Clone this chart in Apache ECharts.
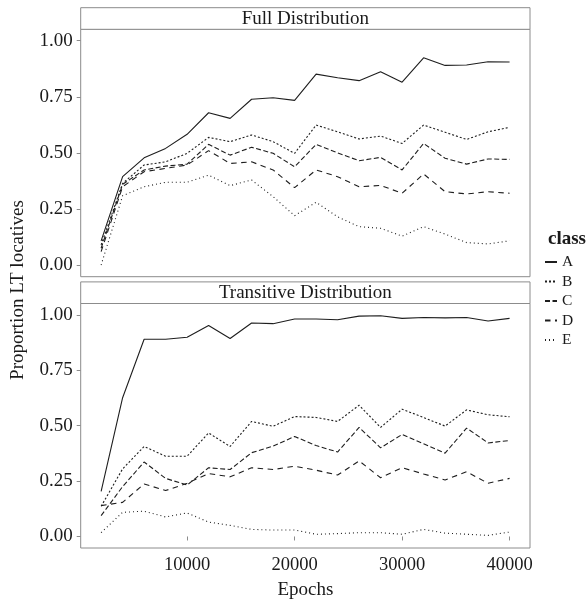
<!DOCTYPE html>
<html>
<head>
<meta charset="utf-8">
<script src="https://cdn.jsdelivr.net/npm/echarts@6/dist/echarts.min.js"></script>
<style>
html,body{margin:0;padding:0;background:#fff;}
#chart{width:587px;height:601px;}
</style>
</head>
<body>
<div id="chart"></div>
<script>
// ---- data ----
const epochs = [2000,4000,6000,8000,10000,12000,14000,16000,18000,20000,22000,24000,26000,28000,30000,32000,34000,36000,38000,40000];
const classes = ['A','B','C','D','E'];
const panels = ['Full Distribution','Transitive Distribution'];
const xTicks = [10000,20000,30000,40000];
const yTicks = [0,0.25,0.5,0.75,1];

const fullA = [0.108,0.394,0.478,0.520,0.583,0.679,0.654,0.739,0.746,0.734,0.851,0.835,0.822,0.862,0.815,0.924,0.890,0.892,0.906,0.905];
const fullB = [0.090,0.364,0.446,0.460,0.498,0.569,0.550,0.580,0.550,0.498,0.624,0.594,0.562,0.575,0.542,0.624,0.592,0.560,0.594,0.614];
const fullC = [0.075,0.360,0.424,0.441,0.450,0.538,0.490,0.525,0.498,0.438,0.538,0.500,0.465,0.480,0.424,0.542,0.476,0.450,0.473,0.471];
const fullD = [0.060,0.349,0.416,0.431,0.446,0.510,0.453,0.460,0.424,0.345,0.424,0.394,0.349,0.355,0.320,0.406,0.327,0.317,0.327,0.320];
const fullE = [0.000,0.309,0.349,0.369,0.369,0.401,0.354,0.379,0.305,0.220,0.280,0.215,0.171,0.164,0.129,0.171,0.138,0.100,0.094,0.108];

const transA = [0.203,0.626,0.890,0.890,0.899,0.952,0.893,0.963,0.960,0.981,0.981,0.978,0.994,0.996,0.984,0.988,0.986,0.988,0.972,0.984];
const transB = [0.136,0.305,0.406,0.362,0.362,0.467,0.406,0.519,0.497,0.541,0.537,0.519,0.592,0.492,0.574,0.537,0.498,0.571,0.549,0.540];
const transC = [0.094,0.225,0.336,0.262,0.232,0.310,0.302,0.378,0.408,0.451,0.410,0.381,0.492,0.400,0.460,0.418,0.376,0.489,0.422,0.433];
const transD = [0.139,0.154,0.237,0.207,0.240,0.284,0.269,0.310,0.302,0.317,0.299,0.277,0.341,0.265,0.310,0.282,0.255,0.292,0.240,0.262];
const transE = [0.017,0.109,0.114,0.088,0.106,0.065,0.050,0.032,0.029,0.029,0.010,0.013,0.017,0.017,0.010,0.032,0.015,0.010,0.005,0.020];

const fullData = [fullA, fullB, fullC, fullD, fullE];
const transData = [transA, transB, transC, transD, transE];

// ---- styles ----
const FONT = 'Liberation Serif';
const TXT = '#1a1a1a';
const BORDER = '#8c8c8c';
const LINE = '#1e1e1e';
const dashes = ['solid', [2,2], [5,2.5], [5.5,4.5], [1,3]];

const G = { left: 80.7, width: 449.3 };
const grids = [
  { left: G.left, width: G.width, top: 29.3, height: 247.4 },
  { left: G.left, width: G.width, top: 303.5, height: 248.2 }
];

function pairs(vals){ return epochs.map((e,i)=>[e, vals[i]]); }

const series = [];
[fullData, transData].forEach((set, gi) => {
  set.forEach((vals, ci) => {
    series.push({
      name: classes[ci], type: 'line', xAxisIndex: gi, yAxisIndex: gi,
      data: pairs(vals), symbol: 'none', showSymbol: false, silent: true,
      lineStyle: { color: LINE, width: 1.1, type: dashes[ci] },
      itemStyle: { color: LINE }
    });
  });
});

const yAxes = grids.map((g, gi) => ({
  gridIndex: gi, type: 'value', min: -0.052, max: 1.051,
  axisLine: { show: false }, splitLine: { show: false },
  axisTick: { show: true, customValues: yTicks, length: 4, lineStyle: { color: BORDER, width: 1 } },
  axisLabel: { customValues: yTicks, formatter: v => v.toFixed(2), fontFamily: FONT, fontSize: 19, color: TXT, margin: 8 }
}));

const xAxes = grids.map((g, gi) => ({
  gridIndex: gi, type: 'value', min: 100, max: 41900,
  axisLine: { show: false }, splitLine: { show: false },
  axisTick: { show: gi === 1, customValues: xTicks, length: 4, lineStyle: { color: BORDER, width: 1 } },
  axisLabel: { show: gi === 1, customValues: xTicks, formatter: v => String(v), fontFamily: FONT, fontSize: 18.5, color: TXT, margin: 8 },
  name: gi === 1 ? 'Epochs' : '', nameLocation: 'middle', nameGap: 33,
  nameTextStyle: { fontFamily: FONT, fontSize: 19, color: TXT }
}));

function strip(gi, label){
  const g = grids[gi];
  const h = 21.6;
  return [
    { type: 'rect', shape: { x: g.left, y: g.top - h, width: g.width, height: h },
      style: { fill: '#fff', stroke: BORDER, lineWidth: 1 }, z: 10 },
    { type: 'text', x: g.left + g.width/2, y: g.top - h/2 + 0.5, z: 11,
      style: { text: label, fill: TXT, font: '19px "' + FONT + '"', align: 'center', verticalAlign: 'middle' } }
  ];
}

const chart = echarts.init(document.getElementById('chart'), null, { renderer: 'canvas' });
chart.setOption({
  animation: false,
  backgroundColor: '#fff',
  grid: grids.map(g => Object.assign({ show: true, borderColor: BORDER, borderWidth: 1, backgroundColor: '#fff' }, g)),
  xAxis: xAxes,
  yAxis: yAxes,
  legend: {
    orient: 'vertical', left: 544, top: 254, padding: 0, itemWidth: 12, itemHeight: 10, itemGap: 3.5,
    data: classes, selectedMode: false,
    itemStyle: { opacity: 0 },
    textStyle: { fontFamily: FONT, fontSize: 15.5, color: TXT }
  },
  graphic: [
    ...strip(0, panels[0]),
    ...strip(1, panels[1]),
    { type: 'text', x: 18, y: 290, rotation: Math.PI/2,
      style: { text: 'Proportion LT locatives', fill: TXT, font: '19px "' + FONT + '"', align: 'center', verticalAlign: 'middle' } },
    { type: 'text', x: 548, y: 239,
      style: { text: 'class', fill: TXT, font: 'bold 19px "' + FONT + '"', align: 'left', verticalAlign: 'middle' } }
  ],
  series: series
});
</script>
</body>
</html>
